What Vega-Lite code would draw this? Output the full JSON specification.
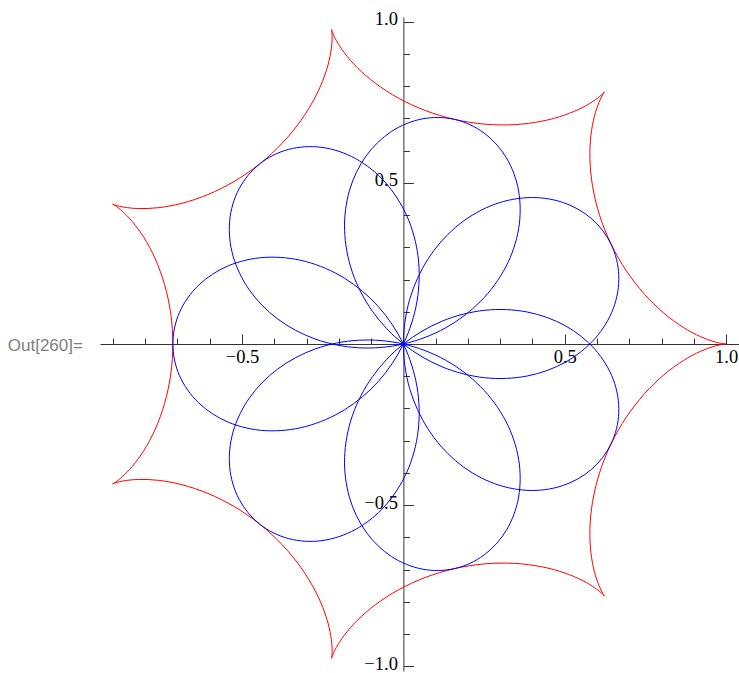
{
  "$schema": "https://vega.github.io/schema/vega-lite/v6.json",
  "width": 639,
  "height": 654,
  "autosize": {"type": "none"},
  "padding": {"left": 100, "top": 17, "right": 0, "bottom": 2},
  "background": "white",
  "config": {"view": {"stroke": null}},
  "datasets": {
    "red": [
      {"a":0,"i":0,"x":1.0,"y":0.0},{"a":0,"i":1,"x":0.9906,"y":0.0009},{"a":0,"i":2,"x":0.9634,"y":0.0069},{"a":0,"i":3,"x":0.921,"y":0.0226},{"a":0,"i":4,"x":0.8674,"y":0.0515},{"a":0,"i":5,"x":0.8076,"y":0.0953},{"a":0,"i":6,"x":0.7471,"y":0.1544},{"a":0,"i":7,"x":0.6909,"y":0.227},{"a":0,"i":8,"x":0.6435,"y":0.3099},{"a":0,"i":9,"x":0.6082,"y":0.3986},{"a":0,"i":10,"x":0.5865,"y":0.4878},{"a":0,"i":11,"x":0.5781,"y":0.572},{"a":0,"i":12,"x":0.5811,"y":0.6461},{"a":0,"i":13,"x":0.5919,"y":0.706},{"a":0,"i":14,"x":0.6061,"y":0.7489},{"a":0,"i":15,"x":0.6183,"y":0.774},{"a":0,"i":16,"x":0.6235,"y":0.7818},
      {"a":1,"i":16,"x":0.6235,"y":0.7818},{"a":1,"i":17,"x":0.617,"y":0.7751},{"a":1,"i":18,"x":0.5953,"y":0.7576},{"a":1,"i":19,"x":0.5566,"y":0.7342},{"a":1,"i":20,"x":0.5006,"y":0.7103},{"a":1,"i":21,"x":0.429,"y":0.6909},{"a":1,"i":22,"x":0.3451,"y":0.6803},{"a":1,"i":23,"x":0.2533,"y":0.6817},{"a":1,"i":24,"x":0.1589,"y":0.6964},{"a":1,"i":25,"x":0.0676,"y":0.7241},{"a":1,"i":26,"x":-0.0157,"y":0.7627},{"a":1,"i":27,"x":-0.0868,"y":0.8086},{"a":1,"i":28,"x":-0.1429,"y":0.8571},{"a":1,"i":29,"x":-0.1829,"y":0.903},{"a":1,"i":30,"x":-0.2077,"y":0.9408},{"a":1,"i":31,"x":-0.2196,"y":0.966},{"a":1,"i":32,"x":-0.2225,"y":0.9749},
      {"a":2,"i":32,"x":-0.2225,"y":0.9749},{"a":2,"i":33,"x":-0.2213,"y":0.9656},{"a":2,"i":34,"x":-0.2211,"y":0.9378},{"a":2,"i":35,"x":-0.227,"y":0.8929},{"a":2,"i":36,"x":-0.2432,"y":0.8342},{"a":2,"i":37,"x":-0.2727,"y":0.7662},{"a":2,"i":38,"x":-0.3168,"y":0.694},{"a":2,"i":39,"x":-0.375,"y":0.623},{"a":2,"i":40,"x":-0.4454,"y":0.5585},{"a":2,"i":41,"x":-0.524,"y":0.5043},{"a":2,"i":42,"x":-0.6061,"y":0.4632},{"a":2,"i":43,"x":-0.6863,"y":0.4363},{"a":2,"i":44,"x":-0.7592,"y":0.4227},{"a":2,"i":45,"x":-0.82,"y":0.42},{"a":2,"i":46,"x":-0.865,"y":0.4242},{"a":2,"i":47,"x":-0.8922,"y":0.4306},{"a":2,"i":48,"x":-0.901,"y":0.4339},
      {"a":3,"i":48,"x":-0.901,"y":0.4339},{"a":3,"i":49,"x":-0.8929,"y":0.429},{"a":3,"i":50,"x":-0.871,"y":0.4118},{"a":3,"i":51,"x":-0.8396,"y":0.3792},{"a":3,"i":52,"x":-0.8039,"y":0.33},{"a":3,"i":53,"x":-0.769,"y":0.2645},{"a":3,"i":54,"x":-0.7401,"y":0.185},{"a":3,"i":55,"x":-0.721,"y":0.0952},{"a":3,"i":56,"x":-0.7143,"y":0.0},{"a":3,"i":57,"x":-0.721,"y":-0.0952},{"a":3,"i":58,"x":-0.7401,"y":-0.185},{"a":3,"i":59,"x":-0.769,"y":-0.2645},{"a":3,"i":60,"x":-0.8039,"y":-0.33},{"a":3,"i":61,"x":-0.8396,"y":-0.3792},{"a":3,"i":62,"x":-0.871,"y":-0.4118},{"a":3,"i":63,"x":-0.8929,"y":-0.429},{"a":3,"i":64,"x":-0.901,"y":-0.4339},
      {"a":4,"i":64,"x":-0.901,"y":-0.4339},{"a":4,"i":65,"x":-0.8922,"y":-0.4306},{"a":4,"i":66,"x":-0.865,"y":-0.4242},{"a":4,"i":67,"x":-0.82,"y":-0.42},{"a":4,"i":68,"x":-0.7592,"y":-0.4227},{"a":4,"i":69,"x":-0.6863,"y":-0.4363},{"a":4,"i":70,"x":-0.6061,"y":-0.4632},{"a":4,"i":71,"x":-0.524,"y":-0.5043},{"a":4,"i":72,"x":-0.4454,"y":-0.5585},{"a":4,"i":73,"x":-0.375,"y":-0.623},{"a":4,"i":74,"x":-0.3168,"y":-0.694},{"a":4,"i":75,"x":-0.2727,"y":-0.7662},{"a":4,"i":76,"x":-0.2432,"y":-0.8342},{"a":4,"i":77,"x":-0.227,"y":-0.8929},{"a":4,"i":78,"x":-0.2211,"y":-0.9378},{"a":4,"i":79,"x":-0.2213,"y":-0.9656},{"a":4,"i":80,"x":-0.2225,"y":-0.9749},
      {"a":5,"i":80,"x":-0.2225,"y":-0.9749},{"a":5,"i":81,"x":-0.2196,"y":-0.966},{"a":5,"i":82,"x":-0.2077,"y":-0.9408},{"a":5,"i":83,"x":-0.1829,"y":-0.903},{"a":5,"i":84,"x":-0.1429,"y":-0.8571},{"a":5,"i":85,"x":-0.0868,"y":-0.8086},{"a":5,"i":86,"x":-0.0157,"y":-0.7627},{"a":5,"i":87,"x":0.0676,"y":-0.7241},{"a":5,"i":88,"x":0.1589,"y":-0.6964},{"a":5,"i":89,"x":0.2533,"y":-0.6817},{"a":5,"i":90,"x":0.3451,"y":-0.6803},{"a":5,"i":91,"x":0.429,"y":-0.6909},{"a":5,"i":92,"x":0.5006,"y":-0.7103},{"a":5,"i":93,"x":0.5566,"y":-0.7342},{"a":5,"i":94,"x":0.5953,"y":-0.7576},{"a":5,"i":95,"x":0.617,"y":-0.7751},{"a":5,"i":96,"x":0.6235,"y":-0.7818},
      {"a":6,"i":96,"x":0.6235,"y":-0.7818},{"a":6,"i":97,"x":0.6183,"y":-0.774},{"a":6,"i":98,"x":0.6061,"y":-0.7489},{"a":6,"i":99,"x":0.5919,"y":-0.706},{"a":6,"i":100,"x":0.5811,"y":-0.6461},{"a":6,"i":101,"x":0.5781,"y":-0.572},{"a":6,"i":102,"x":0.5865,"y":-0.4878},{"a":6,"i":103,"x":0.6082,"y":-0.3986},{"a":6,"i":104,"x":0.6435,"y":-0.3099},{"a":6,"i":105,"x":0.6909,"y":-0.227},{"a":6,"i":106,"x":0.7471,"y":-0.1544},{"a":6,"i":107,"x":0.8076,"y":-0.0953},{"a":6,"i":108,"x":0.8674,"y":-0.0515},{"a":6,"i":109,"x":0.921,"y":-0.0226},{"a":6,"i":110,"x":0.9634,"y":-0.0069},{"a":6,"i":111,"x":0.9906,"y":-0.0009},{"a":6,"i":112,"x":1.0,"y":0.0}
    ],
    "blue": [
      {"i":0,"x":0,"y":0},{"i":1,"x":0.0195,"y":0.138},{"i":2,"x":0.0757,"y":0.2627},{"i":3,"x":0.1621,"y":0.3622},{"i":4,"x":0.2687,"y":0.4277},{"i":5,"x":0.3832,"y":0.4538},{"i":6,"x":0.4921,"y":0.4397},{"i":7,"x":0.5825,"y":0.3892},{"i":8,"x":0.6435,"y":0.3099},{"i":9,"x":0.6675,"y":0.2127},{"i":10,"x":0.6506,"y":0.1105},{"i":11,"x":0.5937,"y":0.0167},{"i":12,"x":0.5019,"y":-0.0566},{"i":13,"x":0.3843,"y":-0.0991},{"i":14,"x":0.2525,"y":-0.1046},{"i":15,"x":0.12,"y":-0.0708},
      {"i":16,"x":0,"y":0},{"i":17,"x":-0.0957,"y":0.1013},{"i":18,"x":-0.1582,"y":0.2229},{"i":19,"x":-0.1821,"y":0.3526},{"i":20,"x":-0.1668,"y":0.4767},{"i":21,"x":-0.1159,"y":0.5825},{"i":22,"x":-0.037,"y":0.6589},{"i":23,"x":0.0589,"y":0.6981},{"i":24,"x":0.1589,"y":0.6964},{"i":25,"x":0.2498,"y":0.6545},{"i":26,"x":0.3192,"y":0.5776},{"i":27,"x":0.3571,"y":0.4745},{"i":28,"x":0.3571,"y":0.3571},{"i":29,"x":0.3171,"y":0.2386},{"i":30,"x":0.2392,"y":0.1322},{"i":31,"x":0.1302,"y":0.0497},
      {"i":32,"x":0,"y":0},{"i":33,"x":-0.1389,"y":-0.0117},{"i":34,"x":-0.2729,"y":0.0153},{"i":35,"x":-0.3892,"y":0.0774},{"i":36,"x":-0.4767,"y":0.1668},{"i":37,"x":-0.5277,"y":0.2726},{"i":38,"x":-0.5382,"y":0.3819},{"i":39,"x":-0.5091,"y":0.4813},{"i":40,"x":-0.4454,"y":0.5585},{"i":41,"x":-0.3559,"y":0.6034},{"i":42,"x":-0.2525,"y":0.6097},{"i":43,"x":-0.1483,"y":0.5751},{"i":44,"x":-0.0566,"y":0.5019},{"i":45,"x":0.0111,"y":0.3967},{"i":46,"x":0.0458,"y":0.2695},{"i":47,"x":0.0423,"y":0.1328},
      {"i":48,"x":0,"y":0},{"i":49,"x":-0.0774,"y":-0.1159},{"i":50,"x":-0.1821,"y":-0.2038},{"i":51,"x":-0.3032,"y":-0.256},{"i":52,"x":-0.4277,"y":-0.2687},{"i":53,"x":-0.5421,"y":-0.2426},{"i":54,"x":-0.6341,"y":-0.1827},{"i":55,"x":-0.6937,"y":-0.0979},{"i":56,"x":-0.7143,"y":0},{"i":57,"x":-0.6937,"y":0.0979},{"i":58,"x":-0.6341,"y":0.1827},{"i":59,"x":-0.5421,"y":0.2426},{"i":60,"x":-0.4277,"y":0.2687},{"i":61,"x":-0.3032,"y":0.256},{"i":62,"x":-0.1821,"y":0.2038},{"i":63,"x":-0.0774,"y":0.1159},
      {"i":64,"x":0,"y":0},{"i":65,"x":0.0423,"y":-0.1328},{"i":66,"x":0.0458,"y":-0.2695},{"i":67,"x":0.0111,"y":-0.3967},{"i":68,"x":-0.0566,"y":-0.5019},{"i":69,"x":-0.1483,"y":-0.5751},{"i":70,"x":-0.2525,"y":-0.6097},{"i":71,"x":-0.3559,"y":-0.6034},{"i":72,"x":-0.4454,"y":-0.5585},{"i":73,"x":-0.5091,"y":-0.4813},{"i":74,"x":-0.5382,"y":-0.3819},{"i":75,"x":-0.5277,"y":-0.2726},{"i":76,"x":-0.4767,"y":-0.1668},{"i":77,"x":-0.3892,"y":-0.0774},{"i":78,"x":-0.2729,"y":-0.0153},{"i":79,"x":-0.1389,"y":0.0117},
      {"i":80,"x":0,"y":0},{"i":81,"x":0.1302,"y":-0.0497},{"i":82,"x":0.2392,"y":-0.1322},{"i":83,"x":0.3171,"y":-0.2386},{"i":84,"x":0.3571,"y":-0.3571},{"i":85,"x":0.3571,"y":-0.4745},{"i":86,"x":0.3192,"y":-0.5776},{"i":87,"x":0.2498,"y":-0.6545},{"i":88,"x":0.1589,"y":-0.6964},{"i":89,"x":0.0589,"y":-0.6981},{"i":90,"x":-0.037,"y":-0.6589},{"i":91,"x":-0.1159,"y":-0.5825},{"i":92,"x":-0.1668,"y":-0.4767},{"i":93,"x":-0.1821,"y":-0.3526},{"i":94,"x":-0.1582,"y":-0.2229},{"i":95,"x":-0.0957,"y":-0.1013},
      {"i":96,"x":0,"y":0},{"i":97,"x":0.12,"y":0.0708},{"i":98,"x":0.2525,"y":0.1046},{"i":99,"x":0.3843,"y":0.0991},{"i":100,"x":0.5019,"y":0.0566},{"i":101,"x":0.5937,"y":-0.0167},{"i":102,"x":0.6506,"y":-0.1105},{"i":103,"x":0.6675,"y":-0.2127},{"i":104,"x":0.6435,"y":-0.3099},{"i":105,"x":0.5825,"y":-0.3892},{"i":106,"x":0.4921,"y":-0.4397},{"i":107,"x":0.3832,"y":-0.4538},{"i":108,"x":0.2687,"y":-0.4277},{"i":109,"x":0.1621,"y":-0.3622},{"i":110,"x":0.0757,"y":-0.2627},{"i":111,"x":0.0195,"y":-0.138}
    ],
    "lbl": [{"x": -0.993, "y": -0.005, "t": "Out[260]="}]
  },
  "layer": [
    {
      "data": {"name": "red"},
      "mark": {"type": "line", "color": "#ff0000", "strokeWidth": 1, "interpolate": "catmull-rom"},
      "encoding": {
        "x": {"field": "x", "type": "quantitative", "scale": {"domain": [-0.94, 1.04], "nice": false, "zero": false},
          "axis": {"orient": "bottom", "offset": -327, "values": [-0.5, 0.5, 1], "format": ".1f", "ticks": false, "domain": false, "grid": false, "title": null, "labelFont": "Liberation Serif", "labelFontSize": 18.5, "labelColor": "#000000", "labelPadding": 3, "labelFlush": false, "labelOverlap": false}},
        "y": {"field": "y", "type": "quantitative", "scale": {"domain": [-1.014, 1.014], "nice": false, "zero": false},
          "axis": {"orient": "left", "offset": -303.4, "values": [-1, -0.5, 0.5, 1], "format": ".1f", "ticks": false, "domain": false, "grid": false, "title": null, "labelFont": "Liberation Serif", "labelFontSize": 18.5, "labelColor": "#000000", "labelPadding": 6, "labelOffset": -3, "labelFlush": false, "labelOverlap": false}},
        "detail": {"field": "a", "type": "nominal"},
        "order": {"field": "i", "type": "quantitative"}
      }
    },
    {
      "data": {"name": "blue"},
      "mark": {"type": "line", "color": "#0000ff", "strokeWidth": 1, "interpolate": "cardinal-closed"},
      "encoding": {
        "x": {"field": "x", "type": "quantitative",
          "axis": {"orient": "bottom", "offset": -327, "values": [-0.5, 0.5, 1], "labels": false, "domain": false, "grid": false, "title": null, "ticks": true, "tickSize": -10, "tickColor": "#333333", "tickWidth": 1}},
        "y": {"field": "y", "type": "quantitative",
          "axis": {"orient": "left", "offset": -303.4, "values": [-1, -0.5, 0.5, 1], "labels": false, "domain": false, "grid": false, "title": null, "ticks": true, "tickSize": -10, "tickColor": "#333333", "tickWidth": 1}},
        "order": {"field": "i", "type": "quantitative"}
      }
    },
    {
      "data": {"name": "lbl"},
      "mark": {"type": "text", "align": "right", "baseline": "middle", "font": "Liberation Sans", "fontSize": 17, "color": "#808080"},
      "encoding": {
        "x": {"field": "x", "type": "quantitative",
          "axis": {"orient": "bottom", "offset": -327, "values": [-0.9, -0.8, -0.7, -0.6, -0.4, -0.3, -0.2, -0.1, 0.1, 0.2, 0.3, 0.4, 0.6, 0.7, 0.8, 0.9], "labels": false, "domain": true, "domainColor": "#333333", "domainWidth": 1, "grid": false, "title": null, "ticks": true, "tickSize": -6, "tickColor": "#333333", "tickWidth": 1}},
        "y": {"field": "y", "type": "quantitative",
          "axis": {"orient": "left", "offset": -303.4, "values": [-0.9, -0.8, -0.7, -0.6, -0.4, -0.3, -0.2, -0.1, 0.1, 0.2, 0.3, 0.4, 0.6, 0.7, 0.8, 0.9], "labels": false, "domain": true, "domainColor": "#333333", "domainWidth": 1, "grid": false, "title": null, "ticks": true, "tickSize": -6, "tickColor": "#333333", "tickWidth": 1}},
        "text": {"field": "t"}
      }
    }
  ],
  "resolve": {"axis": {"x": "independent", "y": "independent"}}
}
